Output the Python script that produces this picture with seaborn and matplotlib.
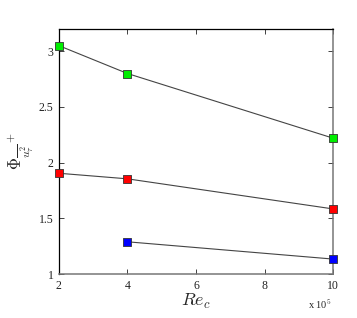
import matplotlib
matplotlib.use("Agg")
import matplotlib.pyplot as plt
import seaborn as sns
import pandas as pd
from matplotlib.ticker import FuncFormatter

sns.set_style("ticks")
plt.rcParams['font.family'] = ['Liberation Serif', 'DejaVu Serif']
plt.rcParams['mathtext.fontset'] = 'cm'

re_green = [2e5, 4e5, 10e5]
phi_green = [3.05, 2.80, 2.22]
re_red = [2e5, 4e5, 10e5]
phi_red = [1.905, 1.855, 1.585]
re_blue = [4e5, 10e5]
phi_blue = [1.29, 1.135]
series_colors = {"green": "#00ee00", "red": "#ff0000", "blue": "#0000ff"}

df = pd.concat([
    pd.DataFrame({"Re": re_green, "Phi": phi_green, "s": "green"}),
    pd.DataFrame({"Re": re_red, "Phi": phi_red, "s": "red"}),
    pd.DataFrame({"Re": re_blue, "Phi": phi_blue, "s": "blue"}),
])

fig = plt.figure(figsize=(3.57, 3.18), dpi=100)
ax = fig.add_axes([0.165, 0.138, 0.768, 0.771])

for name, g in df.groupby("s", sort=False):
    sns.lineplot(data=g, x="Re", y="Phi", ax=ax, color="#444444", lw=0.8,
                 legend=False, zorder=2)
    sns.scatterplot(data=g, x="Re", y="Phi", ax=ax, marker="s", s=38,
                    color=series_colors[name], edgecolor="#333333",
                    linewidth=0.6, legend=False, zorder=3, clip_on=False)

ax.set_xlim(2e5, 10e5)
ax.set_ylim(1, 3.2)
ax.set_xticks([2e5, 4e5, 6e5, 8e5, 10e5])
ax.set_yticks([1, 1.5, 2, 2.5, 3])
ax.xaxis.set_major_formatter(FuncFormatter(lambda v, p: f"{v/1e5:g}"))
ax.yaxis.set_major_formatter(FuncFormatter(lambda v, p: f"{v:g}"))
ax.tick_params(direction="in", length=3.5, width=0.6, labelsize=8.5,
               top=True, right=True, pad=4, colors="#222222")
for side in ["left", "top"]:
    ax.spines[side].set_color("black")
    ax.spines[side].set_linewidth(0.9)
for side in ["right", "bottom"]:
    ax.spines[side].set_color("#777777")
    ax.spines[side].set_linewidth(1.1)

ax.set_xlabel(r"$Re_c$", fontsize=13, labelpad=0)
ax.set_ylabel(r"$\Phi\frac{\ }{u_\tau^2}^{+}$", fontsize=12, labelpad=2)
fig.text(0.862, 0.028, r"x 10$^5$", fontsize=7.5)

fig.savefig("out.png", dpi=100)
